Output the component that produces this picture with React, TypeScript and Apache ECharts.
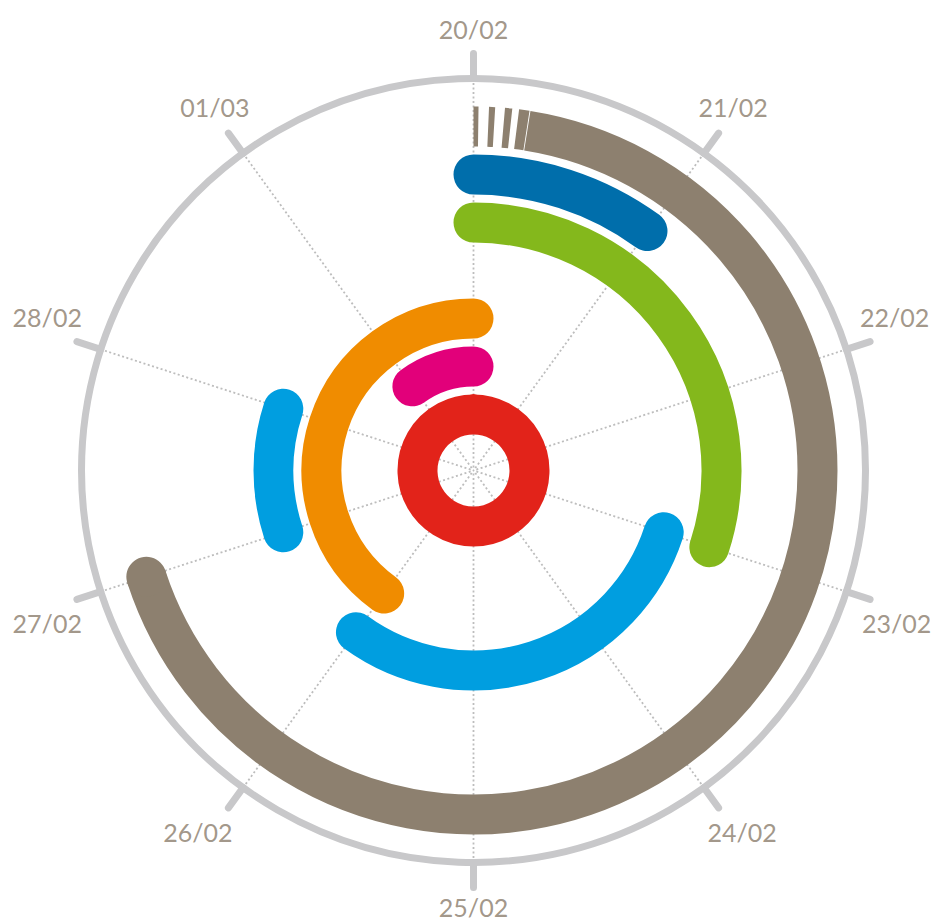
import React, { useEffect, useRef } from 'react';
import * as echarts from 'echarts';

// ---- Data ----
const dayLabels = ['20/02', '21/02', '22/02', '23/02', '24/02', '25/02', '26/02', '27/02', '28/02', '01/03'];
const trackNames = ['Track 1', 'Track 2', 'Track 3', 'Track 4', 'Track 5', 'Track 6', 'Track 7'];

// Solid arcs: track index (inner -> outer), start day, end day (0 = 20/02)
const arcTrack = [0, 1, 2, 3, 3, 4, 5, 6];
const arcStart = [0, 9, 6, 3, 7, 0, 0, 0.25];
const arcEnd = [10, 10, 10, 6, 8, 3, 1, 7];

// Fading-in stripes before the outer arc
const fadeTrack = [6, 6, 6, 6];
const fadeStart = [0, 0.068, 0.138, 0.2];
const fadeEnd = [0.022, 0.095, 0.17, 0.246];

// ---- Styles / layout ----
const ARC_COLORS = ['#E2231A', '#E2007A', '#F08C00', '#009EE0', '#009EE0', '#84B81C', '#006EAB', '#8D806F'];
const FLAT_START = [false, false, false, false, false, false, false, true];
const FADE_COLOR = '#8D806F';
const LABEL_COLOR = '#8A7C6B';
const GRAY = '#C8C8CA';
const BAR_W = 40;
const CENTER = [473.5, 470.5];
const DAY_COUNT = dayLabels.length;
const LABEL_NUDGE = [
  [0, 3.5], [-2, -3.5], [-2, -16], [0, 15], [7, 1.5],
  [0, -9], [-14, 1.5], [-3, 15], [-3, -16], [3, -3.5],
];

function arcGeom(params: any, api: any) {
  const t = api.value(0);
  const s = api.value(1);
  const e = api.value(2);
  const cs = params.coordSys;
  const cx = cs.cx;
  const cy = cs.cy;
  const p1 = api.coord([t, s]);
  const p2 = api.coord([t, e]);
  const r = Math.hypot(p1[0] - cx, p1[1] - cy);
  const a1 = Math.atan2(p1[1] - cy, p1[0] - cx);
  let span = Math.atan2(p2[1] - cy, p2[0] - cx) - a1;
  while (span <= 0) span += Math.PI * 2;
  while (span > Math.PI * 2) span -= Math.PI * 2;
  if (e - s >= DAY_COUNT) span = Math.PI * 2;
  return { cx, cy, r, a1, a2: a1 + span, p2 };
}

export default function App() {
  const ref = useRef<HTMLDivElement>(null);
  useEffect(() => {
    if (!ref.current) return;
    const chart = echarts.init(ref.current, undefined, { renderer: 'svg' });
    const option: any = {
      animation: false,
      backgroundColor: '#ffffff',
      polar: [
        { center: CENTER, radius: [32, 368] },
        { center: CENTER, radius: [0, 392] },
        { center: CENTER, radius: [0, 445] },
      ],
      angleAxis: [
        { polarIndex: 0, type: 'value', min: 0, max: DAY_COUNT, startAngle: 90, clockwise: true, show: false },
        {
          polarIndex: 1, type: 'value', min: 0, max: DAY_COUNT, interval: 1, startAngle: 90, clockwise: true,
          axisLine: { show: true, lineStyle: { color: GRAY, width: 7 } },
          axisTick: { show: true, inside: false, length: 25, lineStyle: { color: GRAY, width: 7, cap: 'round' } },
          axisLabel: { show: false },
          splitLine: { show: true, lineStyle: { color: '#BDBDBD', width: 1.8, type: [2, 2.5] } },
        },
        { polarIndex: 2, type: 'value', min: 0, max: DAY_COUNT, startAngle: 90, clockwise: true, show: false },
      ],
      radiusAxis: [
        { polarIndex: 0, type: 'category', data: trackNames, show: false },
        { polarIndex: 1, type: 'value', min: 0, max: 1, show: false },
        { polarIndex: 2, type: 'value', min: 0, max: 1, show: false },
      ],
      series: [
        {
          type: 'custom',
          name: 'fade',
          coordinateSystem: 'polar',
          polarIndex: 0,
          data: fadeTrack.map((t, i) => [t, fadeStart[i], fadeEnd[i]]),
          encode: { radius: 0, angle: [1, 2] },
          z: 3,
          silent: true,
          renderItem: (params: any, api: any) => {
            const g = arcGeom(params, api);
            return {
              type: 'arc',
              shape: { cx: g.cx, cy: g.cy, r: g.r, startAngle: g.a1, endAngle: g.a2, clockwise: true },
              style: { stroke: FADE_COLOR, lineWidth: BAR_W, lineCap: 'butt', fill: 'none' },
            };
          },
        },
        {
          type: 'custom',
          name: 'arcs',
          coordinateSystem: 'polar',
          polarIndex: 0,
          data: arcTrack.map((t, i) => [t, arcStart[i], arcEnd[i]]),
          encode: { radius: 0, angle: [1, 2] },
          z: 4,
          silent: true,
          renderItem: (params: any, api: any) => {
            const g = arcGeom(params, api);
            const color = ARC_COLORS[params.dataIndex];
            if (FLAT_START[params.dataIndex]) {
              return {
                type: 'group',
                children: [
                  {
                    type: 'arc',
                    shape: { cx: g.cx, cy: g.cy, r: g.r, startAngle: g.a1, endAngle: g.a2, clockwise: true },
                    style: { stroke: color, lineWidth: BAR_W, lineCap: 'butt', fill: 'none' },
                  },
                  {
                    type: 'circle',
                    shape: { cx: g.p2[0], cy: g.p2[1], r: BAR_W / 2 },
                    style: { fill: color, stroke: 'none' },
                  },
                ],
              };
            }
            return {
              type: 'arc',
              shape: { cx: g.cx, cy: g.cy, r: g.r, startAngle: g.a1, endAngle: g.a2, clockwise: true },
              style: { stroke: color, lineWidth: BAR_W, lineCap: 'round', fill: 'none' },
            };
          },
        },
        {
          type: 'scatter',
          name: 'labels',
          coordinateSystem: 'polar',
          polarIndex: 2,
          symbolSize: 1,
          silent: true,
          itemStyle: { color: 'rgba(0,0,0,0)' },
          data: dayLabels.map((d, i) => ({ value: [1, i], name: d, label: { offset: LABEL_NUDGE[i] } })),
          label: {
            show: true,
            position: 'inside',
            formatter: (p: any) => p.name,
            color: LABEL_COLOR,
            fontSize: 25,
            fontFamily: 'Lato',
          },
        },
      ],
    };
    chart.setOption(option);
    return () => chart.dispose();
  }, []);
  return <div ref={ref} style={{ position: 'fixed', left: 0, top: 0, width: 934, height: 922 }} />;
}
